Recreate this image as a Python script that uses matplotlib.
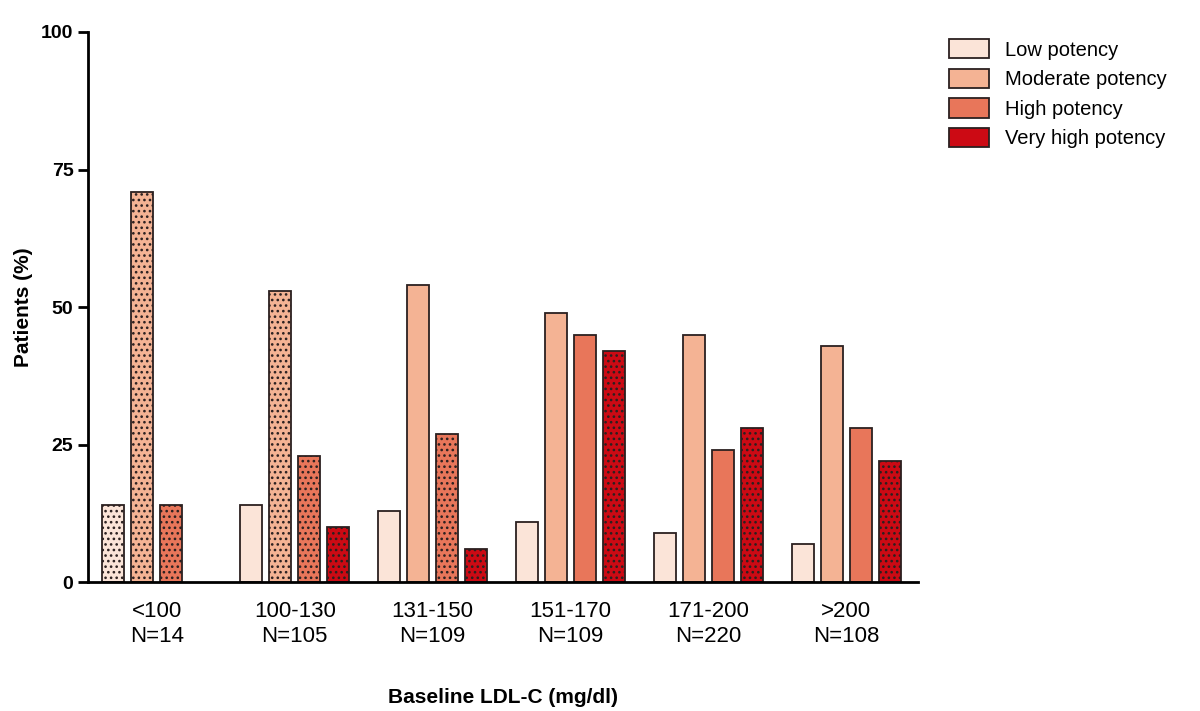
import matplotlib.pyplot as plt
from matplotlib.patches import Patch
import numpy as np

plt.rcParams['font.family'] = ['Liberation Sans', 'DejaVu Sans']
plt.rcParams['hatch.linewidth'] = 1.1

groups = ["<100\nN=14", "100-130\nN=105", "131-150\nN=109",
          "151-170\nN=109", "171-200\nN=220", ">200\nN=108"]
series = ["Low potency", "Moderate potency", "High potency", "Very high potency"]
low = [14, 14, 13, 11, 9, 7]
moderate = [71, 53, 54, 49, 45, 43]
high = [14, 23, 27, 45, 24, 28]
very_high = [0, 10, 6, 42, 28, 22]
# which bars carry the dotted pattern in the original
dotted = [
    [True, False, False, False, False, False],
    [True, True, False, False, False, False],
    [True, True, True, False, False, False],
    [False, True, True, True, True, True],
]
colors = ["#fbe4d8", "#f4b394", "#e8765a", "#cc0a14"]
edge = "#2b2020"

fig = plt.figure(figsize=(12, 7.11), dpi=100)
ax = fig.add_axes([0.0733, 0.1814, 0.6917, 0.7736])

x = np.arange(len(groups))
width = 0.16
step = 0.21
values = [low, moderate, high, very_high]
for k, (vals, col) in enumerate(zip(values, colors)):
    pos = x + (k - 1.5) * step
    for i in range(len(groups)):
        if vals[i] == 0:
            continue
        ax.bar(pos[i], vals[i], width, color=col, edgecolor=edge,
               linewidth=1.3, hatch="..." if dotted[k][i] else None)

ax.set_xlim(-0.5, 5.52)
ax.set_ylim(0, 100)
ax.set_yticks([0, 25, 50, 75, 100])
ax.set_xticks(x)
ax.set_xticklabels(groups, fontsize=16, linespacing=1.2)
ax.tick_params(axis="x", length=0, pad=14)
ax.tick_params(axis="y", length=7, width=2, labelsize=14)
for t in ax.get_yticklabels():
    t.set_fontweight("bold")
for s in ["top", "right"]:
    ax.spines[s].set_visible(False)
for s in ["left", "bottom"]:
    ax.spines[s].set_linewidth(2)

ax.set_ylabel("Patients (%)", fontsize=15, fontweight="bold", labelpad=6)
ax.set_xlabel("Baseline LDL-C (mg/dl)", fontsize=15, fontweight="bold", labelpad=30)

handles = [Patch(facecolor=c, edgecolor=edge, linewidth=1.3) for c in colors]
ax.legend(handles, series, loc="upper left", bbox_to_anchor=(1.015, 1.02),
          frameon=False, fontsize=14.5, handlelength=2.0, handleheight=1.1,
          labelspacing=0.45, handletextpad=0.8)

fig.savefig("out.png", dpi=100)
